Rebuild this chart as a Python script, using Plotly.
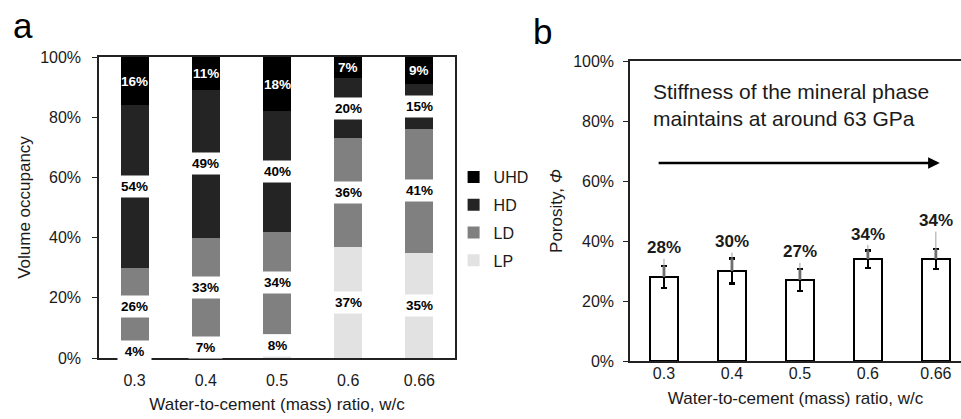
import plotly.graph_objects as go

# ---------------- data ----------------
wc = ["0.3", "0.4", "0.5", "0.6", "0.66"]
lp = [4, 7, 8, 37, 35]
ld = [26, 33, 34, 36, 41]
hd = [54, 49, 40, 20, 15]
uhd = [16, 11, 18, 7, 9]
porosity = [28, 30, 27, 34, 34]
porosity_err = [3.7, 4.2, 3.6, 2.9, 3.4]
y_ticks = [0, 20, 40, 60, 80, 100]
y_tick_text = ["0%", "20%", "40%", "60%", "80%", "100%"]

# ---------------- style ----------------
FONT = "Arial, Liberation Sans, sans-serif"
TXT = "#1a1a1a"
COLORS = {"UHD": "#000000", "HD": "#242424", "LD": "#808080", "LP": "#e2e2e2"}
LEGEND_RANK = {"UHD": 1, "HD": 2, "LD": 3, "LP": 4}
LABEL_LIFT_B = [6.0, 5.6, 5.8, 5.4, 9.4]   # label offsets above error bar tops (panel b)

W, H = 961, 419

fig = go.Figure()

series = [("LP", lp), ("LD", ld), ("HD", hd), ("UHD", uhd)]
for name, vals in series:
    fig.add_trace(go.Bar(
        x=wc, y=vals, name=name, marker=dict(color=COLORS[name], line=dict(width=0)),
        width=0.393, xaxis="x", yaxis="y", legendgroup=name,
        legendrank=LEGEND_RANK[name], hoverinfo="x+y+name",
    ))

# panel b bars
fig.add_trace(go.Bar(
    x=wc, y=porosity, name="Porosity", showlegend=False,
    marker=dict(color="white", line=dict(color="black", width=2)),
    width=0.41, xaxis="x2", yaxis="y2",
    error_y=dict(type="data", array=porosity_err, visible=True,
                 color="black", thickness=2.4, width=3),
))
# gray upper part of error bars
fig.add_trace(go.Scatter(
    x=wc, y=porosity, mode="markers", showlegend=False, hoverinfo="skip",
    marker=dict(size=1, color="rgba(0,0,0,0)"),
    xaxis="x2", yaxis="y2",
    error_y=dict(type="data", symmetric=False, array=porosity_err,
                 arrayminus=[0] * len(porosity), visible=True,
                 color="#6e6e6e", thickness=2.8, width=0),
))

annotations = []

# panel a segment labels
cum = [0] * len(wc)
for name, vals in series:
    for i, v in enumerate(vals):
        mid = cum[i] + v / 2
        cum[i] += v
        if name == "UHD":
            annotations.append(dict(
                x=i, y=mid, xref="x", yref="y", text=f"{v}%", showarrow=False,
                font=dict(family=FONT, size=13.5, color="white", weight="bold"),
            ))
        else:
            annotations.append(dict(
                x=i, y=mid, xref="x", yref="y", text=f"{v}%", showarrow=False,
                font=dict(family=FONT, size=13.5, color="black", weight="bold"),
                bgcolor="white", width=31, height=19, borderpad=1,
            ))

# panel b value labels with leader lines
for i, v in enumerate(porosity):
    top = v + porosity_err[i]
    annotations.append(dict(
        x=i, y=top, xref="x2", yref="y2",
        ax=i, ay=top + LABEL_LIFT_B[i], axref="x2", ayref="y2",
        text=f"{v}%", showarrow=True, arrowhead=0, arrowwidth=1,
        arrowcolor="#a0a0a0", standoff=0, startstandoff=0,
        font=dict(family=FONT, size=17, color=TXT, weight="bold"),
    ))

# panel b text + arrow
annotations.append(dict(
    x=0.063, y=85.3, xref="x2 domain", yref="y2", xanchor="left", yanchor="middle",
    align="left", showarrow=False,
    text="Stiffness of the mineral phase<br>maintains at around 63 GPa",
    font=dict(family=FONT, size=21, color=TXT),
))
annotations.append(dict(
    x=0.936, y=66, xref="x2 domain", yref="y2",
    ax=0.082, ay=66, axref="x2 domain", ayref="y2",
    text="", showarrow=True, arrowhead=2, arrowsize=0.9, arrowwidth=2.6,
    arrowcolor="black", standoff=0, startstandoff=0,
))

# panel letters
annotations.append(dict(x=0.011, y=0.94, xref="paper", yref="paper", xanchor="left",
                        yanchor="middle", text="a", showarrow=False,
                        font=dict(family=FONT, size=35, color="black")))
annotations.append(dict(x=0.553, y=0.925, xref="paper", yref="paper", xanchor="left",
                        yanchor="middle", text="b", showarrow=False,
                        font=dict(family=FONT, size=35, color="black")))

axis_common = dict(
    showgrid=False, zeroline=False, showline=True, linecolor="#222", linewidth=1.5,
    automargin=False, tickfont=dict(family=FONT, size=16, color=TXT),
)

fig.update_layout(
    template="none",
    width=W, height=H, margin=dict(l=0, r=0, t=0, b=0, pad=0),
    paper_bgcolor="white", plot_bgcolor="white",
    barmode="stack", showlegend=True,
    font=dict(family=FONT, color=TXT),
    xaxis=dict(domain=[99 / W, 455 / W], anchor="y", mirror=True, ticks="",
               type="category", range=[-0.5, 4.5], ticklabelstandoff=7,
               title=dict(text="Water-to-cement (mass) ratio, w/c", standoff=10,
                          font=dict(family=FONT, size=17, color=TXT)),
               **axis_common),
    yaxis=dict(domain=[(H - 358) / H, (H - 57) / H], anchor="x", mirror=True,
               range=[0, 100], tickmode="array", tickvals=y_ticks, ticktext=y_tick_text,
               ticks="outside", ticklen=5, tickcolor="#222", ticklabelstandoff=8,
               title=dict(text="Volume occupancy", standoff=5,
                          font=dict(family=FONT, size=17, color=TXT)),
               **axis_common),
    xaxis2=dict(domain=[630 / W, 1.0], anchor="y2", mirror=True, ticks="",
                type="category", range=[-0.5, 4.37], ticklabelstandoff=-3,
                title=dict(text="Water-to-cement (mass) ratio, w/c", standoff=11,
                           font=dict(family=FONT, size=17, color=TXT)),
                **axis_common),
    yaxis2=dict(domain=[(H - 361) / H, (H - 61) / H], anchor="x2",
                range=[0, 100], tickmode="array", tickvals=y_ticks, ticktext=y_tick_text,
                ticks="outside", ticklen=5, tickcolor="#222", ticklabelstandoff=6,
                title=dict(text="Porosity, <i>Φ</i>", standoff=6,
                           font=dict(family=FONT, size=17, color=TXT)),
                **axis_common),
    legend=dict(x=0.472, y=0.618, xanchor="left", yanchor="top",
                traceorder="grouped", tracegroupgap=4,
                font=dict(family=FONT, size=16, color=TXT),
                bgcolor="rgba(0,0,0,0)"),
    annotations=annotations,
)

fig.write_html("out.html", config={"displayModeBar": False},
               post_script="document.body.style.margin='0';document.body.style.overflow='hidden';")
